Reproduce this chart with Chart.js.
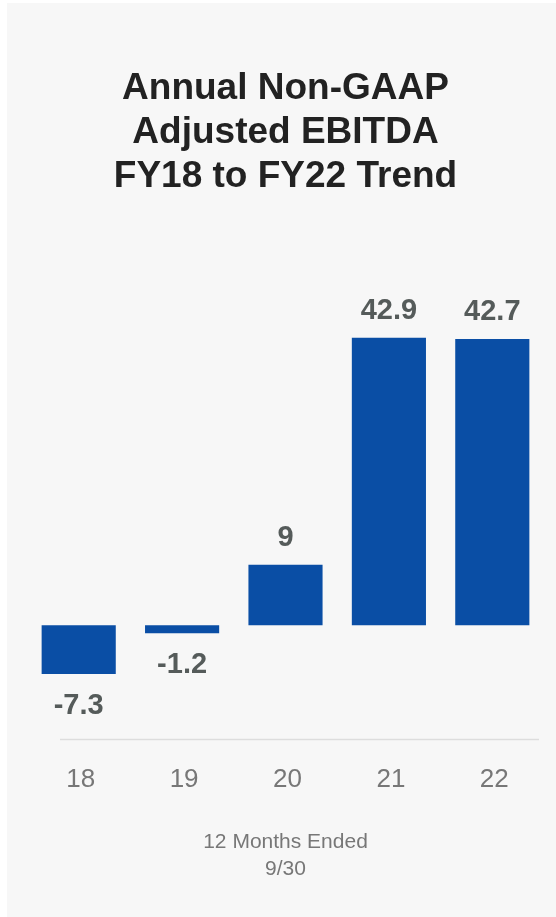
<!DOCTYPE html>
<html>
<head>
<meta charset="utf-8">
<title>Annual Non-GAAP Adjusted EBITDA</title>
<script src="https://cdn.jsdelivr.net/npm/chart.js@4.4.1/dist/chart.umd.min.js"></script>
<style>
    html, body { margin: 0; padding: 0; background: #ffffff; }
    .card {
        position: absolute;
        left: 7px;
        top: 3px;
        width: 549px;
        height: 914px;
        background: #f7f7f7;
    }
</style>
</head>
<body>
<div class="card">
    <canvas id="ebitdaChart"></canvas>
</div>
<script>
/*********************** Data ************************/
var years = ['18', '19', '20', '21', '22'];
var ebitda = [-7.3, -1.2, 9, 42.9, 42.7];
var titleLines = ['Annual Non-GAAP', 'Adjusted EBITDA', 'FY18 to FY22 Trend'];
var axisTitle = ['12 Months Ended', '9/30'];

var FONT = '"Liberation Sans", Arial, sans-serif';

/*********************** Bar value labels ************************/
var valueLabels = {
    id: 'valueLabels',
    afterDatasetsDraw: function (chart) {
        var ctx = chart.ctx;
        var meta = chart.getDatasetMeta(0);
        ctx.save();
        ctx.font = 'bold 29px ' + FONT;
        ctx.fillStyle = '#555b5a';
        ctx.textAlign = 'center';
        ctx.textBaseline = 'alphabetic';
        meta.data.forEach(function (bar, i) {
            var v = chart.data.datasets[0].data[i];
            var y = v >= 0 ? bar.y - 19 : bar.y + 40;
            ctx.fillText(String(v), bar.x, y);
        });
        ctx.restore();
    }
};

// thin rule under the bars, a little shorter than the plot area
var baseRule = {
    id: 'baseRule',
    afterDraw: function (chart) {
        var ctx = chart.ctx;
        var area = chart.chartArea;
        var y = Math.round(area.bottom) + 0.5;
        ctx.save();
        ctx.strokeStyle = '#dddddd';
        ctx.lineWidth = 1.5;
        ctx.beginPath();
        ctx.moveTo(area.left + 33, y);
        ctx.lineTo(area.right - 5, y);
        ctx.stroke();
        ctx.restore();
    }
};

var ctx = document.getElementById('ebitdaChart').getContext('2d');

var myBarChart = new Chart(ctx, {
    type: 'bar',
    data: {
        labels: years,
        datasets: [{
            label: 'Adjusted EBITDA',
            data: ebitda,
            backgroundColor: '#0a4ea5',
            borderWidth: 0,
            barPercentage: 0.717,
            categoryPercentage: 1
        }]
    },
    options: {
        responsive: true,
        maintainAspectRatio: false,
        animation: false,
        layout: {
            padding: { left: 20, right: 12, top: 0, bottom: 34 }
        },
        plugins: {
            legend: { display: false },
            tooltip: { enabled: false },
            title: {
                display: true,
                text: titleLines,
                color: '#222222',
                font: { family: FONT, size: 37, weight: 'bold', lineHeight: 1.19 },
                padding: { top: 64, bottom: 91 }
            }
        },
        scales: {
            x: {
                grid: { display: false, drawTicks: false },
                border: { display: false },
                ticks: {
                    color: '#777777',
                    padding: 25,
                    labelOffset: 2,
                    font: { family: FONT, size: 26 }
                },
                title: {
                    display: true,
                    text: axisTitle,
                    color: '#777777',
                    font: { family: FONT, size: 21, lineHeight: 1.28 },
                    padding: { top: 9, bottom: 0 }
                }
            },
            y: {
                display: false,
                min: -17,
                max: 50
            }
        }
    },
    plugins: [valueLabels, baseRule]
});
</script>
</body>
</html>
